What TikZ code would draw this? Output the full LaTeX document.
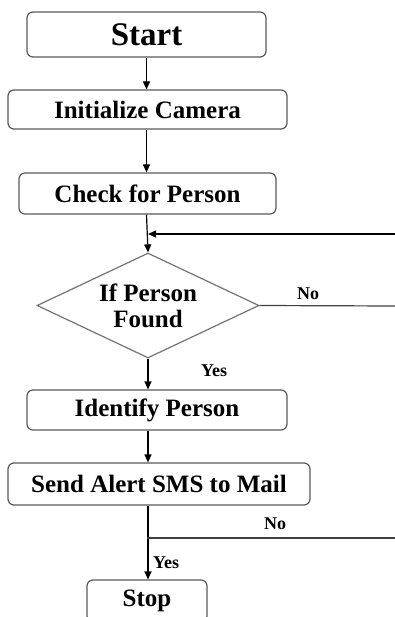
\documentclass[tikz,border=0pt]{standalone}
\usepackage{fontspec}
\setmainfont{Liberation Serif}
\usetikzlibrary{shapes.geometric,arrows.meta}

\begin{document}
\begin{tikzpicture}[x=1pt,y=-1pt,
    every node/.append style={align=center,font=\bfseries\fontsize{25}{26}\selectfont},
    box/.style={draw=black!65,line width=1.2pt,rounded corners=6pt,inner sep=0pt},
    decision/.style={diamond,draw=black!55,line width=1.2pt,inner sep=0pt,aspect=2.1,
                     minimum width=222pt,minimum height=105pt},
    link/.style={line width=1.2pt,-{Triangle[length=8pt,width=7pt]}},
    wire/.style={line width=1.2pt,draw=black!75},
    lbl/.style={font=\bfseries\fontsize{18}{20}\selectfont}]
    \useasboundingbox (0,0) rectangle (395,617);
    \node[box,minimum width=239pt,minimum height=45pt,
          font=\bfseries\fontsize{33}{35}\selectfont] (start)  at (146.5,34.5) {Start};
    \node[box,minimum width=279pt,minimum height=39pt] (init)   at (147.5,109.5) {Initialize Camera};
    \node[box,minimum width=257pt,minimum height=41pt] (check)  at (147.5,193.5) {Check for Person};
    \node[decision]                                    (found)  at (148,305.5)   {If Person\\Found};
    \node[box,minimum width=260pt,minimum height=40pt] (ident)  at (157,410)     {Identify Person};
    \node[box,minimum width=302pt,minimum height=42pt] (alert)  at (159,484)     {Send Alert SMS to Mail};
    \node[box,minimum width=120pt,minimum height=42pt] (stop)   at (147,601)     {Stop};
    % loop-back ends at the right edge
    \coordinate (back1) at (395,234);
    \coordinate (back2) at (395,306);
    \coordinate (back3) at (395,538);
    \coordinate (split) at (147,538);
    \draw[link] (start) -- (start.south |- init.north);
    \draw[link] (init.south -| start) -- (start |- check.north);
    \draw[link] (check.south -| start) -- (found.north);
    \draw[link] (back1) -- (back1 -| found.north);
    \draw[wire] (found.east) -- (back2);
    \draw[link] (found.south) -- (found.south |- ident.north);
    \draw[link] (found.south |- ident.south) -- (found.south |- alert.north);
    \draw[link] (found.south |- alert.south) -- (found.south |- stop.north);
    \draw[wire] (split) -- (back3);
    \node[lbl] (no1)  at (308,294) {No};
    \node[lbl] (yes1) at (214,371) {Yes};
    \node[lbl] (no2)  at (275,524) {No};
    \node[lbl] (yes2) at (166,563) {Yes};
  \end{tikzpicture}
\end{document}
